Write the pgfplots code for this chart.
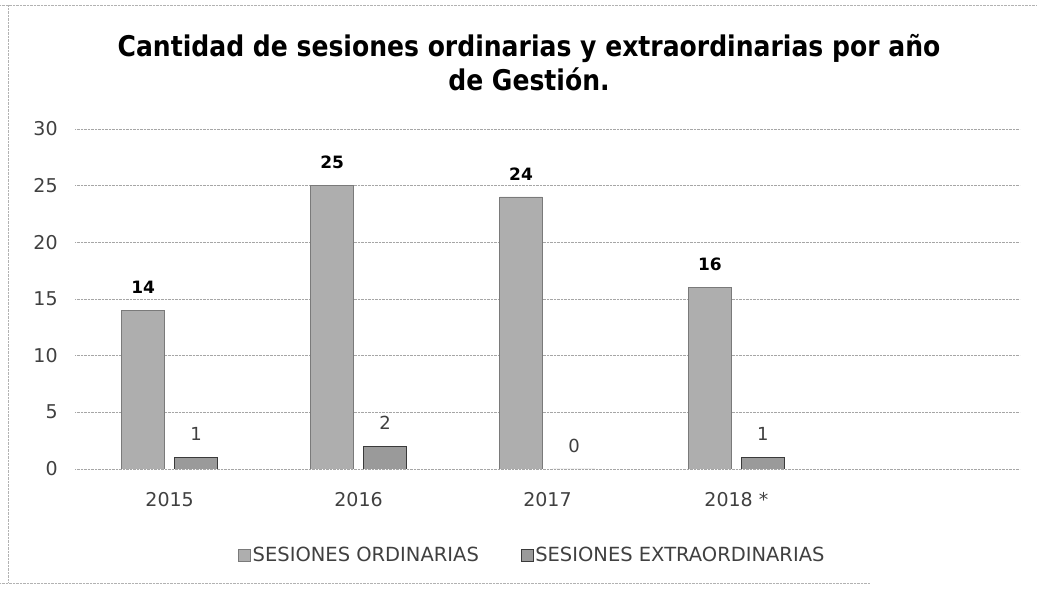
\documentclass[border=0pt]{standalone}
\usepackage{fontspec}
\setmainfont{DejaVu Sans}
\newfontfamily\titlefont{DejaVu Sans}[FakeStretch=0.88]
\usepackage{pgfplots}
\pgfplotsset{compat=1.18}

\definecolor{ordfill}{HTML}{AEAEAE}
\definecolor{ordedge}{HTML}{7A7A7A}
\definecolor{extfill}{HTML}{9A9A9A}
\definecolor{extedge}{HTML}{3A3A3A}
\definecolor{txt}{HTML}{404040}

\begin{document}
\begin{tikzpicture}[x=1pt,y=1pt]
\path (0,0) rectangle (1037,595);
% scanned frame
\draw[densely dotted, gray!60] (0,590) -- (1037,590);
\draw[densely dotted, gray!60] (8,590) -- (8,12);
\draw[densely dotted, gray!60] (0,12) -- (870,12);

\node[align=center, font=\titlefont\bfseries\fontsize{28.5}{34}\selectfont] at (529,532)
  {Cantidad de sesiones ordinarias y extraordinarias por año\\de Gestión.};

\begin{axis}[
    at={(75pt,126pt)}, anchor=south west,
    scale only axis, width=945pt, height=340pt,
    xmin=-0.5, xmax=4.5, ymin=0, ymax=30,
    xtick={0,1,2,3},
    xticklabels={2015,2016,2017,2018 *},
    ytick={0,5,...,30},
    axis line style={draw=none},
    tick style={draw=none},
    ymajorgrids,
    grid style={densely dotted, gray!70},
    ybar=10pt, bar width=43pt,
    font=\fontsize{19}{22}\selectfont,
    ticklabel style={text=txt},
    xticklabel style={yshift=-16pt},
    yticklabel style={xshift=-14pt},
    /pgf/number format/assume math mode=true,
    legend style={at={(0.484,-0.253)}, anchor=center, draw=none, fill=none,
        font=\fontsize{19.5}{22}\selectfont, text=txt,
        nodes={inner sep=2pt}},
    legend columns=2,
    /tikz/every even column/.append style={column sep=40pt},
    legend image code/.code={\draw[#1] (0pt,-6pt) rectangle (12pt,6pt);},
]
\addplot[fill=ordfill, draw=ordedge, nodes near coords,
    nodes near coords style={font=\bfseries\fontsize{17}{20}\selectfont, text=black, yshift=13pt}]
    coordinates {(0,14) (1,25) (2,24) (3,16)};
\addlegendentry{SESIONES ORDINARIAS}
\addplot[fill=extfill, draw=extedge, nodes near coords,
    nodes near coords style={font=\fontsize{18}{20}\selectfont, text=txt, yshift=13pt}]
    coordinates {(0,1) (1,2) (2,0) (3,1)};
\addlegendentry{SESIONES EXTRAORDINARIAS}
\end{axis}
\end{tikzpicture}
\end{document}
